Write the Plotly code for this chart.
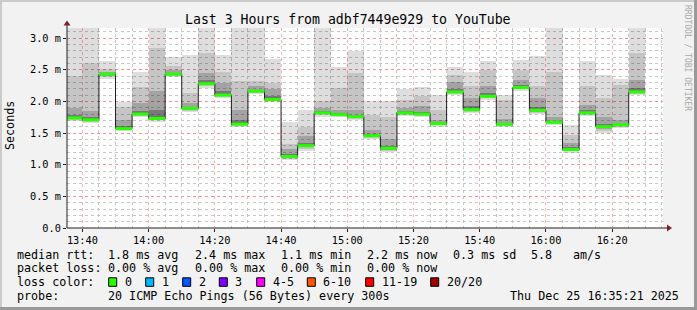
import plotly.graph_objects as go
import pandas as pd

# ---------------- data (milliseconds) ----------------
bar_end = pd.date_range("2025-12-25 13:40", "2025-12-25 16:30", freq="5min")

median_ms = [1.74, 1.71, 2.43, 1.57, 1.80, 1.73, 2.43, 1.89, 2.28, 2.10,
             1.64, 2.16, 2.03, 1.13, 1.30, 1.82, 1.79, 1.76, 1.46, 1.26,
             1.82, 1.80, 1.65, 2.15, 1.87, 2.08, 1.64, 2.22, 1.86, 1.67,
             1.24, 1.82, 1.60, 1.63, 2.15]
min_ms = [1.69, 1.66, 2.35, 1.53, 1.75, 1.68, 2.38, 1.83, 2.21, 2.05,
          1.60, 2.12, 1.99, 1.07, 1.22, 1.76, 1.75, 1.71, 1.40, 1.20,
          1.77, 1.75, 1.60, 2.10, 1.82, 2.03, 1.59, 2.17, 1.80, 1.62,
          1.19, 1.77, 1.50, 1.58, 2.10]
dark_top_ms = [1.90, 1.85, 2.47, 1.71, 1.97, 2.16, 2.50, 1.97, 2.45, 2.29,
               1.87, 2.25, 2.20, 1.25, 1.45, 1.90, 1.87, 1.87, 1.55, 1.40,
               1.90, 1.92, 1.71, 2.30, 2.05, 2.24, 1.72, 2.34, 2.05, 1.75,
               1.35, 1.95, 1.75, 1.70, 2.34]
mid_top_ms = [2.40, 2.60, 2.52, 1.91, 2.22, 2.84, 2.56, 2.13, 2.76, 2.47,
              2.32, 2.32, 2.29, 1.32, 1.60, 2.00, 2.21, 2.45, 1.79, 1.76,
              2.03, 2.08, 1.87, 2.42, 2.24, 2.50, 2.03, 2.50, 2.24, 2.47,
              1.47, 2.24, 2.05, 2.26, 2.77]
max_ms = [3.40, 3.40, 2.64, 1.99, 2.46, 3.40, 2.70, 2.73, 3.40, 2.74,
          3.40, 3.40, 2.67, 1.68, 1.86, 3.40, 2.55, 2.80, 2.01, 2.00,
          2.20, 2.23, 2.10, 2.55, 2.47, 2.64, 2.10, 2.65, 2.71, 3.40,
          1.63, 2.64, 2.42, 2.36, 3.40]

y_tick_vals = [0.0, 0.5, 1.0, 1.5, 2.0, 2.5, 3.0]
y_tick_text = ["0.0", "0.5 m", "1.0 m", "1.5 m", "2.0 m", "2.5 m", "3.0 m"]

loss_labels = ["0", "1", "2", "3", "4-5", "6-10", "11-19", "20/20"]
loss_colors = ["#26ff00", "#00b8ff", "#0059ff", "#7e00ff", "#ff00ff",
               "#ff5500", "#ff0000", "#a10000"]

title_text = "Last 3 Hours from adbf7449e929 to YouTube"

# ---------------- geometry ----------------
W_PX, H_PX = 697, 310
L, R, T, B = 67, 34, 28, 82
PW = W_PX - L - R
PH = H_PX - T - B
Y_BOTTOM = H_PX - B


def px(x):
    return (x - L) / PW


def py(y):
    return (Y_BOTTOM - y) / PH


step = pd.Timedelta("5min")
starts = bar_end - step
centers = bar_end - step / 2
WIDTH_MS = 300000

fig = go.Figure()


def band(base, top, color):
    fig.add_trace(go.Bar(
        x=centers, base=base, y=[t - b for t, b in zip(top, base)],
        width=WIDTH_MS, marker=dict(color=color, line=dict(width=0)),
        hoverinfo="skip", showlegend=False))


n = len(median_ms)
lo2 = [median_ms[i] - 0.6 * (median_ms[i] - min_ms[i]) for i in range(n)]
lo3 = [median_ms[i] - 0.35 * (median_ms[i] - min_ms[i]) for i in range(n)]
lo4 = [median_ms[i] - 0.2 * (median_ms[i] - min_ms[i]) for i in range(n)]
hi4 = [median_ms[i] + 0.3 * (dark_top_ms[i] - median_ms[i]) for i in range(n)]

# translucent black layers so the dotted grid shows through the smoke
band(min_ms, max_ms, "rgba(0,0,0,0.13)")
band(lo2, mid_top_ms, "rgba(0,0,0,0.11)")
band(lo3, dark_top_ms, "rgba(0,0,0,0.17)")
band(lo4, hi4, "rgba(0,0,0,0.26)")

# black median step line
fig.add_trace(go.Scatter(
    x=list(starts) + [bar_end[-1]], y=median_ms + [median_ms[-1]],
    mode="lines", line=dict(color="#202020", width=1, shape="hv"),
    hoverinfo="skip", showlegend=False))

# green loss-coloured median segments
gx, gy = [], []
for i in range(n):
    gx += [starts[i], bar_end[i], None]
    gy += [median_ms[i], median_ms[i], None]
fig.add_trace(go.Scatter(
    x=gx, y=gy, mode="lines", line=dict(color=loss_colors[0], width=3),
    hoverinfo="skip", showlegend=False))

MONO = "DejaVu Sans Mono"

fig.update_layout(
    width=W_PX, height=H_PX,
    margin=dict(l=L, r=R, t=T, b=B, pad=0),
    paper_bgcolor="#f2f2f2", plot_bgcolor="#ffffff",
    barmode="overlay", bargap=0,
    showlegend=False,
    font=dict(family=MONO, color="#000000"),
)

fig.update_xaxes(
    type="date",
    range=["2025-12-25 13:35:21", "2025-12-25 16:35:21"],
    tick0="2025-12-25 13:40", dtick=1200000, tickformat="%H:%M",
    ticks="outside", ticklen=3, tickcolor="#202020",
    tickfont=dict(family=MONO, size=10.3, color="#000000"),
    showgrid=True, gridcolor="rgba(255,110,110,0.55)", griddash="dot", gridwidth=1,
    minor=dict(dtick=300000, tick0="2025-12-25 13:40", showgrid=True,
               gridcolor="#c8c8c8", griddash="dot", gridwidth=1),
    zeroline=False, showline=False, fixedrange=True,
)
fig.update_yaxes(
    range=[0, 3.16],
    tickmode="array", tickvals=y_tick_vals, ticktext=y_tick_text,
    ticks="outside", ticklen=3, tickcolor="#202020",
    tickfont=dict(family=MONO, size=10.3, color="#000000"),
    showgrid=True, gridcolor="rgba(255,110,110,0.55)", griddash="dot", gridwidth=1,
    minor=dict(dtick=0.1, tick0=0, showgrid=True,
               gridcolor="#c8c8c8", griddash="dot", gridwidth=1),
    zeroline=False, showline=False, fixedrange=True,
)

shapes = []
# frame shading
shapes.append(dict(type="rect", xref="paper", yref="paper",
                   x0=px(0), x1=px(W_PX), y0=py(0), y1=py(2),
                   fillcolor="#cbcbcb", line=dict(width=0), layer="below"))
shapes.append(dict(type="rect", xref="paper", yref="paper",
                   x0=px(0), x1=px(2), y0=py(0), y1=py(H_PX),
                   fillcolor="#cbcbcb", line=dict(width=0), layer="below"))
shapes.append(dict(type="rect", xref="paper", yref="paper",
                   x0=px(W_PX - 3), x1=px(W_PX), y0=py(0), y1=py(H_PX),
                   fillcolor="#999999", line=dict(width=0), layer="below"))
shapes.append(dict(type="rect", xref="paper", yref="paper",
                   x0=px(0), x1=px(W_PX), y0=py(H_PX - 3), y1=py(H_PX),
                   fillcolor="#999999", line=dict(width=0), layer="below"))
# axis lines
shapes.append(dict(type="line", xref="paper", yref="paper",
                   x0=px(L), x1=px(668), y0=py(Y_BOTTOM), y1=py(Y_BOTTOM),
                   line=dict(color="#202020", width=1)))
shapes.append(dict(type="line", xref="paper", yref="paper",
                   x0=px(L), x1=px(L), y0=py(Y_BOTTOM), y1=py(23),
                   line=dict(color="#202020", width=1)))


def tri(pts):
    s = "M " + " L ".join(f"{px(a):.5f},{py(b):.5f}" for a, b in pts) + " Z"
    return s


shapes.append(dict(type="path", xref="paper", yref="paper",
                   path=tri([(667, Y_BOTTOM - 3.5), (672, Y_BOTTOM), (667, Y_BOTTOM + 3.5)]),
                   fillcolor="#802020", line=dict(color="#802020", width=0)))
shapes.append(dict(type="path", xref="paper", yref="paper",
                   path=tri([(L - 3.5, 25.5), (L, 20.5), (L + 3.5, 25.5)]),
                   fillcolor="#802020", line=dict(color="#802020", width=0)))

annotations = []


def ann(text, x, y, size=11.7, xanchor="left", color="#000000", angle=0):
    annotations.append(dict(
        text=text.replace(" ", "\u00a0"), x=px(x), y=py(y),
        xref="paper", yref="paper", showarrow=False,
        xanchor=xanchor, yanchor="middle", textangle=angle,
        font=dict(family=MONO, size=size, color=color), borderpad=0))


ann(title_text, 348, 19, size=13.2, xanchor="center")
ann("Seconds", 10, 126, size=11.7, xanchor="center", angle=-90)
ann("RRDTOOL / TOBI OETIKER", 688, 58, size=8, xanchor="center",
    color="#a8a8a8", angle=90)

ROW = [254.7, 268.3, 282.3, 296]
ann("median rtt:", 16, ROW[0])
for txt, xx in [("1.8 ms avg", 107.3), ("2.4 ms max", 194), ("1.1 ms min", 280.3),
                ("2.2 ms now", 365.7), ("0.3 ms sd", 451.7), ("5.8", 530),
                ("am/s", 571.7)]:
    ann(txt, xx, ROW[0])
ann("packet loss:", 16, ROW[1])
for txt, xx in [("0.00 % avg", 107.3), ("0.00 % max", 194), ("0.00 % min", 279.5),
                ("0.00 % now", 365.7)]:
    ann(txt, xx, ROW[1])
ann("loss color:", 16, ROW[2])
sq_left = [108.7, 145.7, 182.7, 219.3, 256.7, 307.3, 365.7, 430.7]
for lab, col, xx in zip(loss_labels, loss_colors, sq_left):
    shapes.append(dict(type="rect", xref="paper", yref="paper",
                       x0=px(xx), x1=px(xx + 8), y0=py(ROW[2] - 4.5), y1=py(ROW[2] + 4),
                       fillcolor=col, line=dict(color="#000000", width=1)))
    ann(lab, xx + 15, ROW[2])
ann("probe:", 16, ROW[3])
ann("20 ICMP Echo Pings (56 Bytes) every 300s", 107.3, ROW[3])
ann("Thu Dec 25 16:35:21 2025", 680, ROW[3], xanchor="right")

fig.update_layout(shapes=shapes, annotations=annotations)

fig.write_html("out.html")
